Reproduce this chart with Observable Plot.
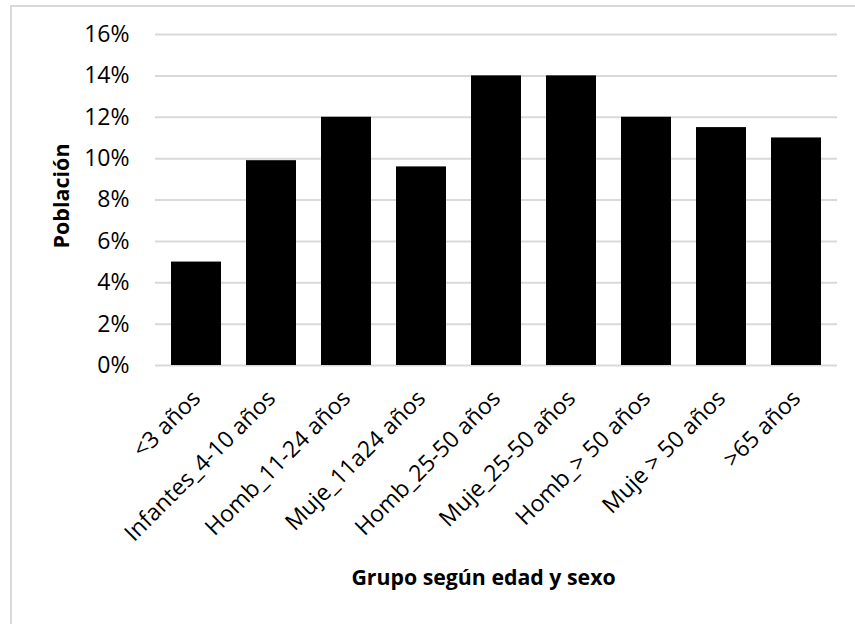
<!DOCTYPE html>
<html>
<head>
<meta charset="utf-8">
<script src="https://cdn.jsdelivr.net/npm/d3@7"></script>
<script src="https://cdn.jsdelivr.net/npm/@observablehq/plot@0.6"></script>
<style>
  html, body { margin: 0; padding: 0; background: #fff; }
  #wrap { position: relative; width: 855px; height: 624px; overflow: hidden; }
  #frame { position: absolute; left: 10px; top: 5px; width: 870px; height: 640px;
           border: 2px solid #d9d9d9; box-sizing: border-box; }
  #chart { position: absolute; left: 0; top: 0; }
  #chart svg { font-family: "Open Sans", sans-serif; }
</style>
</head>
<body>
<div id="wrap">
  <div id="frame"></div>
  <div id="chart"></div>
</div>
<script>
// Population share by age and sex group
const categories = [
  "<3 años", "Infantes_4-10 años", "Homb_11-24 años", "Muje_11a24 años",
  "Homb_25-50 años", "Muje_25-50 años", "Homb_> 50 años", "Muje > 50 años", ">65 años"
];
const shares = [0.05, 0.099, 0.12, 0.096, 0.14, 0.14, 0.12, 0.115, 0.11];
const yTicks = [0, 0.02, 0.04, 0.06, 0.08, 0.10, 0.12, 0.14, 0.16];
const yTitle = "Población";
const xTitle = "Grupo según edad y sexo";

const data = categories.map((c, i) => ({ grupo: c, valor: shares[i] }));

const chart = Plot.plot({
  width: 855,
  height: 624,
  marginLeft: 155,
  marginRight: 18,
  marginTop: 34,
  marginBottom: 259,
  style: { fontFamily: "Open Sans, sans-serif", fontSize: "22px", color: "#000", background: "transparent" },
  x: { domain: categories, paddingInner: 0.33, paddingOuter: 0.165, label: null },
  y: { domain: [0, 0.16], label: null },
  marks: [
    Plot.gridY(yTicks, { stroke: "#d9d9d9", strokeOpacity: 1, strokeWidth: 2 }),
    Plot.barY(data, { x: "grupo", y: "valor", fill: "#000" }),
    Plot.axisY(yTicks, {
      tickSize: 0, tickPadding: 26, tickFormat: d3.format(".0%"),
      fontSize: 23, label: null
    }),
    Plot.axisX({
      tickSize: 0, tickPadding: 29, tickRotate: -45, fontSize: 23, label: null
    }),
    Plot.text([yTitle], {
      frameAnchor: "left", dx: -93, dy: -4, rotate: -90, fontWeight: "bold", fontSize: 21.5,
      lineAnchor: "middle", textAnchor: "middle"
    }),
    Plot.text([xTitle], {
      frameAnchor: "bottom", dx: -13, dy: 213, fontWeight: "bold", fontSize: 21.3,
      lineAnchor: "middle", textAnchor: "middle"
    })
  ]
});

document.getElementById("chart").appendChild(chart);
</script>
</body>
</html>
